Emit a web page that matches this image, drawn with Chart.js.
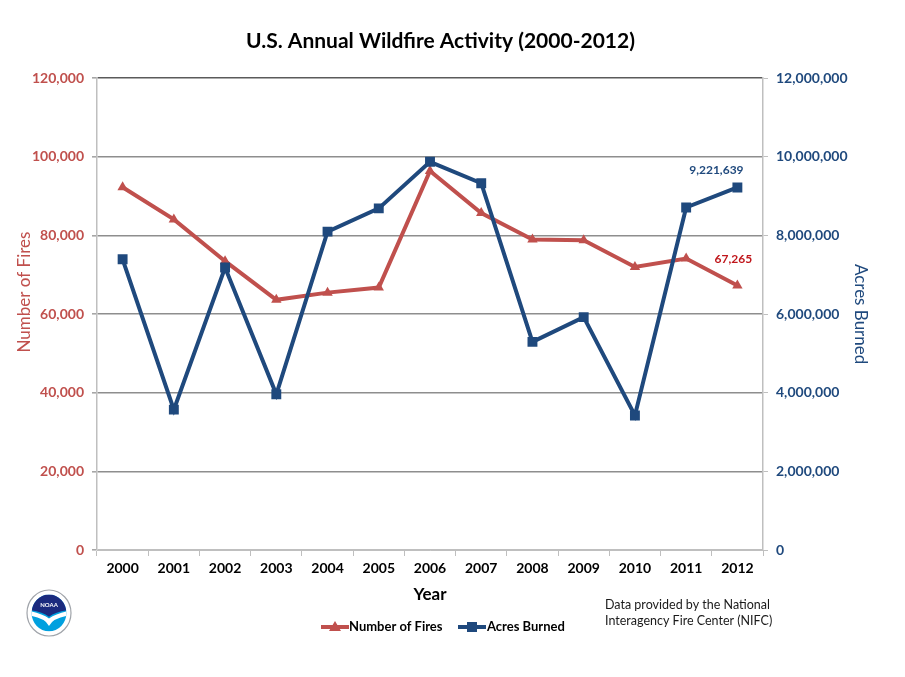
<!DOCTYPE html>
<html>
<head>
<meta charset="utf-8">
<title>U.S. Annual Wildfire Activity (2000-2012)</title>
<script src="https://cdn.jsdelivr.net/npm/chart.js@4.4.1/dist/chart.umd.min.js"></script>
<style>
  html, body { margin: 0; padding: 0; background: #fff; }
  #wrap { width: 905px; height: 677px; position: relative; }
</style>
</head>
<body>
<div id="wrap"><canvas id="fireChart"></canvas></div>
<script>
// Data
const years = ['2000', '2001', '2002', '2003', '2004', '2005', '2006', '2007', '2008', '2009', '2010', '2011', '2012'];
const numberOfFires = [92250, 84079, 73457, 63629, 65461, 66753, 96385, 85705, 78979, 78792, 71971, 74126, 67265];
const acresBurned = [7393493, 3570911, 7184712, 3960842, 8097880, 8689389, 9873745, 9328045, 5292468, 5921786, 3422724, 8711367, 9221639];
const fireTicks = [0, 20000, 40000, 60000, 80000, 100000, 120000];
const acreTicks = [0, 2000000, 4000000, 6000000, 8000000, 10000000, 12000000];

const RED = '#C0504D';
const BLUE = '#1F497D';
const FONT = 'Lato, "Open Sans", sans-serif';

const fmt = v => Number(v).toLocaleString('en-US');

// labels on the last point of each series
const endLabels = {
    id: 'endLabels',
    afterDatasetsDraw(chart) {
        const ctx = chart.ctx;
        ctx.save();
        ctx.textAlign = 'center';
        ctx.textBaseline = 'middle';
        ctx.font = 'bold 12px ' + FONT;

        const blue = chart.getDatasetMeta(1).data[acresBurned.length - 1];
        ctx.fillStyle = BLUE;
        ctx.fillText(fmt(acresBurned[acresBurned.length - 1]), blue.x - 21, blue.y - 17);

        const red = chart.getDatasetMeta(0).data[numberOfFires.length - 1];
        ctx.fillStyle = '#C0161B';
        ctx.fillText(fmt(numberOfFires[numberOfFires.length - 1]), red.x - 4, red.y - 26);
        ctx.restore();
    }
};

// left axis title sits a bit above centre in the original, so draw it here
const leftTitle = {
    id: 'leftTitle',
    afterDraw(chart) {
        const ctx = chart.ctx;
        ctx.save();
        ctx.translate(25, 292);
        ctx.rotate(-Math.PI / 2);
        ctx.font = '17px ' + FONT;
        ctx.fillStyle = RED;
        ctx.textAlign = 'center';
        ctx.textBaseline = 'middle';
        ctx.fillText('Number of Fires', 0, 0);
        ctx.restore();
    }
};

// legend, source note and logo under the plot
const extras = {
    id: 'extras',
    afterDraw(chart) {
        const ctx = chart.ctx;
        ctx.save();

        // legend
        const ly = 627;
        ctx.lineWidth = 4;
        ctx.strokeStyle = RED;
        ctx.beginPath(); ctx.moveTo(321, ly); ctx.lineTo(349, ly); ctx.stroke();
        ctx.fillStyle = RED;
        ctx.beginPath(); ctx.moveTo(335, ly - 6); ctx.lineTo(341, ly + 4); ctx.lineTo(329, ly + 4); ctx.closePath(); ctx.fill();

        ctx.strokeStyle = BLUE;
        ctx.beginPath(); ctx.moveTo(458, ly); ctx.lineTo(486, ly); ctx.stroke();
        ctx.fillStyle = BLUE;
        ctx.fillRect(467, ly - 5, 10, 10);

        ctx.fillStyle = '#000';
        ctx.font = 'bold 13px ' + FONT;
        ctx.textBaseline = 'middle';
        ctx.textAlign = 'left';
        ctx.fillText('Number of Fires', 349, ly);
        ctx.fillText('Acres Burned', 487, ly);

        // source note
        ctx.font = '12.5px ' + FONT;
        ctx.fillStyle = '#1a1a1a';
        ctx.fillText('Data provided by the National', 605, 605);
        ctx.fillText('Interagency Fire Center (NIFC)', 605, 621);

        drawLogo(ctx, 49, 613, 23);
        ctx.restore();
    }
};

function drawLogo(ctx, cx, cy, r) {
    ctx.save();
    ctx.beginPath();
    ctx.ellipse(cx, cy, r - 1, r, 0, 0, Math.PI * 2);
    ctx.fillStyle = '#fff';
    ctx.fill();
    ctx.strokeStyle = '#a0a4aa';
    ctx.lineWidth = 1.2;
    ctx.stroke();

    const ri = r * 0.8;
    ctx.beginPath();
    ctx.ellipse(cx, cy, ri - 1, ri, 0, 0, Math.PI * 2);
    ctx.clip();
    ctx.fillStyle = '#00A0DF';
    ctx.fillRect(cx - ri, cy - ri, ri * 2, ri * 2);

    // navy upper part
    ctx.fillStyle = '#1B2A7E';
    ctx.beginPath();
    ctx.moveTo(cx - ri, cy - ri);
    ctx.lineTo(cx + ri, cy - ri);
    ctx.lineTo(cx + ri, cy - ri * 0.15);
    ctx.quadraticCurveTo(cx + ri * 0.35, cy - ri * 0.05, cx, cy + ri * 0.2);
    ctx.quadraticCurveTo(cx - ri * 0.35, cy - ri * 0.05, cx - ri, cy - ri * 0.15);
    ctx.closePath();
    ctx.fill();

    // white gull
    ctx.fillStyle = '#fff';
    ctx.beginPath();
    ctx.moveTo(cx - ri, cy - ri * 0.1);
    ctx.quadraticCurveTo(cx - ri * 0.35, cy + ri * 0.05, cx, cy + ri * 0.3);
    ctx.quadraticCurveTo(cx + ri * 0.35, cy + ri * 0.05, cx + ri, cy - ri * 0.1);
    ctx.lineTo(cx + ri, cy + ri * 0.15);
    ctx.quadraticCurveTo(cx + ri * 0.2, cy + ri * 0.3, cx, cy + ri * 0.7);
    ctx.quadraticCurveTo(cx - ri * 0.2, cy + ri * 0.3, cx - ri, cy + ri * 0.15);
    ctx.closePath();
    ctx.fill();

    ctx.font = 'bold 6px ' + FONT;
    ctx.textAlign = 'center';
    ctx.textBaseline = 'middle';
    ctx.fillText('NOAA', cx, cy - ri * 0.45);
    ctx.restore();
}

function yGridColor(c) {
    if (!c.tick) return '#8e8e8e';
    if (c.tick.value === 120000) return '#5a5a5a';
    if (c.tick.value === 0) return '#bfbfbf';
    return '#8e8e8e';
}

new Chart(document.getElementById('fireChart'), {
    type: 'line',
    data: {
        labels: years,
        datasets: [{
            label: 'Number of Fires',
            data: numberOfFires,
            yAxisID: 'y',
            borderColor: RED,
            backgroundColor: RED,
            borderWidth: 4,
            pointStyle: 'triangle',
            pointRadius: 6,
            pointBorderWidth: 0,
            tension: 0,
            order: 2
        }, {
            label: 'Acres Burned',
            data: acresBurned,
            yAxisID: 'y1',
            borderColor: BLUE,
            backgroundColor: BLUE,
            borderWidth: 4,
            pointStyle: 'rect',
            pointRadius: 7,
            pointBorderWidth: 0,
            tension: 0,
            order: 1
        }]
    },
    options: {
        responsive: true,
        maintainAspectRatio: false,
        animation: false,
        devicePixelRatio: 1,
        layout: { padding: { left: 0, right: 24, top: 0, bottom: 0 } },
        plugins: {
            legend: { display: false },
            tooltip: { enabled: false },
            title: {
                display: true,
                text: 'U.S. Annual Wildfire Activity (2000-2012)',
                color: '#000',
                font: { family: FONT, size: 21, weight: 'bold' },
                padding: { top: 29, bottom: 24 }
            }
        },
        scales: {
            x: {
                type: 'category',
                offset: true,
                grid: { drawOnChartArea: false, offset: true, tickLength: 6, color: '#bfbfbf' },
                border: { color: '#bfbfbf' },
                ticks: { color: '#000', font: { family: FONT, size: 14, weight: 'bold' }, padding: 4, maxRotation: 0, autoSkip: false },
                title: {
                    display: true, text: 'Year', color: '#000',
                    font: { family: FONT, size: 17, weight: 'bold' },
                    padding: { top: 0, bottom: 72 }
                },
                afterFit(scale) { scale.height = 127; }
            },
            y: {
                position: 'left',
                min: 0, max: 120000,
                afterBuildTicks(scale) { scale.ticks = fireTicks.map(v => ({ value: v })); },
                grid: { color: yGridColor, tickColor: '#a6a6a6', tickLength: 5, lineWidth: 1.6 },
                border: { color: '#bfbfbf', width: 1.5 },
                ticks: { color: RED, font: { family: FONT, size: 14, weight: 'bold' }, padding: 8, callback: v => fmt(v) },
                title: { display: false },
                afterFit(scale) { scale.width = 97; }
            },
            y1: {
                position: 'right',
                min: 0, max: 12000000,
                afterBuildTicks(scale) { scale.ticks = acreTicks.map(v => ({ value: v })); },
                grid: { drawOnChartArea: false, tickColor: '#bfbfbf', tickLength: 5 },
                border: { color: '#bfbfbf', width: 1.5 },
                ticks: { color: BLUE, font: { family: FONT, size: 14, weight: 'bold' }, padding: 8, callback: v => fmt(v) },
                title: {
                    display: true, text: 'Acres Burned', color: BLUE,
                    font: { family: FONT, size: 17 },
                    padding: { top: 10, bottom: 0 }
                },
                afterFit(scale) { scale.width = 118; }
            }
        }
    },
    plugins: [endLabels, leftTitle, extras]
});
</script>
</body>
</html>
